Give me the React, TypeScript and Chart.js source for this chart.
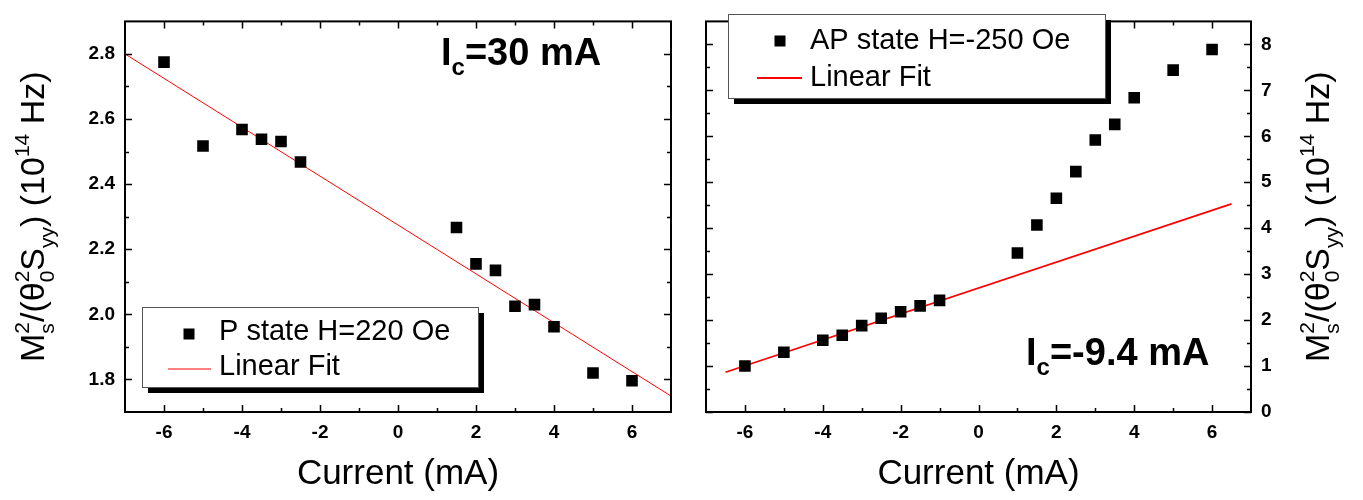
import React, { useEffect, useRef } from 'react';
import { Chart, registerables } from 'chart.js';

Chart.register(...registerables);

const FONT = "'Liberation Sans', Arial, Helvetica, sans-serif";

// ---------- Left panel: P state ----------
const pCurrent = [-6, -5, -4, -3.5, -3, -2.5, 1.5, 2, 2.5, 3, 3.5, 4, 5, 6];
const pValue = [2.775, 2.517, 2.568, 2.538, 2.531, 2.468, 2.267, 2.155, 2.135, 2.025, 2.03, 1.962, 1.82, 1.796];
const pFitCurrent = [-7, 7];
const pFitValue = [2.8, 1.749];
const pXTicks = [-6, -4, -2, 0, 2, 4, 6];
const pXMinor = [-5, -3, -1, 1, 3, 5];
const pYTicks = [1.8, 2.0, 2.2, 2.4, 2.6, 2.8];
const pYMinor = [1.9, 2.1, 2.3, 2.5, 2.7];
const pLabel = 'P state H=220 Oe';
const pNote = '=30 mA';

// ---------- Right panel: AP state ----------
const apCurrent = [-6, -5, -4, -3.5, -3, -2.5, -2, -1.5, -1, 1, 1.5, 2, 2.5, 3, 3.5, 4, 5, 6];
const apValue = [1.0, 1.3, 1.56, 1.67, 1.88, 2.04, 2.18, 2.31, 2.43, 3.46, 4.07, 4.65, 5.23, 5.92, 6.26, 6.84, 7.44, 7.89];
const apFitCurrent = [-6.5, 6.5];
const apFitValue = [0.865, 4.53];
const apXTicks = [-6, -4, -2, 0, 2, 4, 6];
const apXMinor = [-5, -3, -1, 1, 3, 5];
const apYTicks = [0, 1, 2, 3, 4, 5, 6, 7, 8];
const apYMinor = [0.5, 1.5, 2.5, 3.5, 4.5, 5.5, 6.5, 7.5];
const apLabel = 'AP state H=-250 Oe';
const apNote = '=-9.4 mA';

const fitLabel = 'Linear Fit';
const xTitle = 'Current (mA)';

type Seg = { text?: string; sub?: string; sup?: string };

const yTitleSegs: Seg[] = [
  { text: 'M' },
  { sub: 's', sup: '2' },
  { text: '/(θ' },
  { sub: '0', sup: '2' },
  { text: 'S' },
  { sub: 'yy' },
  { text: ') (10' },
  { sup: '14' },
  { text: ' Hz)' },
];

function richWidth(ctx: CanvasRenderingContext2D, segs: Seg[], mainFont: string, scriptFont: string) {
  let w = 0;
  for (const s of segs) {
    if (s.text !== undefined) {
      ctx.font = mainFont;
      w += ctx.measureText(s.text).width;
    } else {
      ctx.font = scriptFont;
      w += Math.max(s.sub ? ctx.measureText(s.sub).width : 0, s.sup ? ctx.measureText(s.sup).width : 0);
    }
  }
  return w;
}

function drawRich(
  ctx: CanvasRenderingContext2D,
  segs: Seg[],
  x0: number,
  y0: number,
  mainFont: string,
  scriptFont: string,
  subDy: number,
  supDy: number
) {
  let x = x0;
  ctx.textBaseline = 'alphabetic';
  ctx.textAlign = 'left';
  for (const s of segs) {
    if (s.text !== undefined) {
      ctx.font = mainFont;
      ctx.fillText(s.text, x, y0);
      x += ctx.measureText(s.text).width;
    } else {
      ctx.font = scriptFont;
      let w = 0;
      if (s.sub) {
        ctx.fillText(s.sub, x, y0 + subDy);
        w = Math.max(w, ctx.measureText(s.sub).width);
      }
      if (s.sup) {
        ctx.fillText(s.sup, x, y0 + supDy);
        w = Math.max(w, ctx.measureText(s.sup).width);
      }
      x += w;
    }
  }
}

type PanelOpts = {
  current: number[];
  value: number[];
  fitCurrent: number[];
  fitValue: number[];
  fitWidth: number;
  xTicks: number[];
  xMinor: number[];
  yTicks: number[];
  yMinor: number[];
  yMin: number;
  yMax: number;
  yDecimals: number;
  yPosition: 'left' | 'right';
  yWidth: number;
  padding: { left: number; right: number; top: number; bottom: number };
  label: string;
  note: string;
  noteX: number;
  noteY: number;
  titleX: number;
  legend: { x: number; y: number; w: number; h: number; mx: number; my: number; tx: number; ty1: number; lx0: number; lx1: number; ly: number; ty2: number };
};

function makeDecorPlugin(o: PanelOpts) {
  return {
    id: 'decor',
    afterDraw(chart: any) {
      const ctx: CanvasRenderingContext2D = chart.ctx;
      const a = chart.chartArea;
      const xs = chart.scales.x;
      const ys = chart.scales.y;
      ctx.save();
      // frame
      ctx.strokeStyle = '#000';
      ctx.lineWidth = 2;
      ctx.strokeRect(a.left, a.top, a.right - a.left, a.bottom - a.top);
      // inward ticks
      ctx.lineWidth = 1.5;
      const tick = (vals: number[], len: number) => {
        for (const v of vals) {
          const px = Math.round(xs.getPixelForValue(v)) + 0.5;
          ctx.beginPath();
          ctx.moveTo(px, a.bottom);
          ctx.lineTo(px, a.bottom - len);
          ctx.moveTo(px, a.top);
          ctx.lineTo(px, a.top + len);
          ctx.stroke();
        }
      };
      const tickY = (vals: number[], len: number) => {
        for (const v of vals) {
          const py = Math.round(ys.getPixelForValue(v)) + 0.5;
          ctx.beginPath();
          ctx.moveTo(a.left, py);
          ctx.lineTo(a.left + len, py);
          ctx.moveTo(a.right, py);
          ctx.lineTo(a.right - len, py);
          ctx.stroke();
        }
      };
      tick(o.xTicks, 7);
      tick(o.xMinor, 4);
      tickY(o.yTicks, 7);
      tickY(o.yMinor, 4);

      // legend box
      const L = o.legend;
      ctx.fillStyle = '#000';
      ctx.fillRect(L.x + 6, L.y + 6, L.w, L.h);
      ctx.fillStyle = '#fff';
      ctx.fillRect(L.x, L.y, L.w, L.h);
      ctx.strokeStyle = '#555';
      ctx.lineWidth = 1;
      ctx.strokeRect(L.x + 0.5, L.y + 0.5, L.w, L.h);
      ctx.fillStyle = '#000';
      ctx.fillRect(L.mx - 5.5, L.my - 5.5, 11, 11);
      ctx.font = `29px ${FONT}`;
      ctx.textBaseline = 'alphabetic';
      ctx.textAlign = 'left';
      ctx.fillText(chart.data.datasets[0].label, L.tx, L.ty1);
      ctx.strokeStyle = '#ff0000';
      ctx.lineWidth = o.fitWidth;
      ctx.beginPath();
      ctx.moveTo(L.lx0, L.ly);
      ctx.lineTo(L.lx1, L.ly);
      ctx.stroke();
      ctx.fillText(chart.data.datasets[1].label, L.tx, L.ty2);

      // annotation I_c
      ctx.fillStyle = '#000';
      drawRich(ctx, [{ text: 'I' }, { sub: 'c' }, { text: o.note }], o.noteX, o.noteY, `bold 38px ${FONT}`, `bold 24px ${FONT}`, 10, 0);

      // rotated y title
      const mainFont = `34px ${FONT}`;
      const scriptFont = `21px ${FONT}`;
      const w = richWidth(ctx, yTitleSegs, mainFont, scriptFont);
      const cy = (a.top + a.bottom) / 2;
      ctx.translate(o.titleX, cy);
      ctx.rotate(-Math.PI / 2);
      drawRich(ctx, yTitleSegs, -w / 2, 0, mainFont, scriptFont, 10, -15);
      ctx.restore();
    },
  };
}

function makeConfig(o: PanelOpts): any {
  return {
    type: 'scatter',
    data: {
      datasets: [
        {
          label: o.label,
          data: o.current.map((x, i) => ({ x, y: o.value[i] })),
          pointStyle: 'rect',
          pointRadius: 8.2,
          pointHoverRadius: 8.2,
          backgroundColor: '#000',
          borderColor: '#000',
          borderWidth: 0,
          showLine: false,
        },
        {
          label: fitLabel,
          data: o.fitCurrent.map((x, i) => ({ x, y: o.fitValue[i] })),
          showLine: true,
          borderColor: '#ff0000',
          backgroundColor: '#ff0000',
          borderWidth: o.fitWidth,
          pointRadius: 0,
          fill: false,
          tension: 0,
        },
      ],
    },
    options: {
      responsive: false,
      animation: false,
      devicePixelRatio: 1,
      layout: { padding: o.padding },
      plugins: { legend: { display: false }, tooltip: { enabled: false } },
      scales: {
        x: {
          type: 'linear',
          min: -7,
          max: 7,
          afterBuildTicks: (s: any) => {
            s.ticks = o.xTicks.map((v) => ({ value: v }));
          },
          afterFit: (s: any) => {
            s.height = 88;
          },
          grid: { display: false, drawTicks: false },
          border: { display: false },
          ticks: {
            font: { family: FONT, size: 19, weight: 'bold' },
            color: '#000',
            padding: 9,
            maxRotation: 0,
            autoSkip: false,
            callback: (v: any) => String(v),
          },
          title: {
            display: true,
            text: xTitle,
            font: { family: FONT, size: 35 },
            color: '#000',
            padding: { top: 0, bottom: 5 },
          },
        },
        y: {
          type: 'linear',
          position: o.yPosition,
          min: o.yMin,
          max: o.yMax,
          afterBuildTicks: (s: any) => {
            s.ticks = o.yTicks.map((v) => ({ value: v }));
          },
          afterFit: (s: any) => {
            s.width = o.yWidth;
          },
          grid: { display: false, drawTicks: false },
          border: { display: false },
          ticks: {
            font: { family: FONT, size: 19, weight: 'bold' },
            color: '#000',
            padding: 10,
            autoSkip: false,
            callback: (v: any) => Number(v).toFixed(o.yDecimals),
          },
        },
      },
    },
    plugins: [makeDecorPlugin(o)],
  };
}

const leftOpts: PanelOpts = {
  current: pCurrent,
  value: pValue,
  fitCurrent: pFitCurrent,
  fitValue: pFitValue,
  fitWidth: 1,
  xTicks: pXTicks,
  xMinor: pXMinor,
  yTicks: pYTicks,
  yMinor: pYMinor,
  yMin: 1.7,
  yMax: 2.9,
  yDecimals: 1,
  yPosition: 'left',
  yWidth: 125,
  padding: { left: 0, right: 19, top: 5, bottom: 0 },
  label: pLabel,
  note: pNote,
  noteX: 441,
  noteY: 65,
  titleX: 44,
  legend: { x: 142, y: 307, w: 336, h: 80, mx: 189, my: 334, tx: 219, ty1: 340, lx0: 168, lx1: 211, ly: 369, ty2: 375 },
};

const rightOpts: PanelOpts = {
  current: apCurrent,
  value: apValue,
  fitCurrent: apFitCurrent,
  fitValue: apFitValue,
  fitWidth: 1.8,
  xTicks: apXTicks,
  xMinor: apXMinor,
  yTicks: apYTicks,
  yMinor: apYMinor,
  yMin: 0,
  yMax: 8.5,
  yDecimals: 0,
  yPosition: 'right',
  yWidth: 112,
  padding: { left: 16, right: 0, top: 5, bottom: 0 },
  label: apLabel,
  note: apNote,
  noteX: 336,
  noteY: 365,
  titleX: 639,
  legend: { x: 38, y: 14, w: 377, h: 84, mx: 90, my: 41, tx: 120, ty1: 49, lx0: 67, lx1: 112, ly: 78, ty2: 86 },
};

function Panel({ opts, left, width }: { opts: PanelOpts; left: number; width: number }) {
  const ref = useRef<HTMLCanvasElement | null>(null);
  useEffect(() => {
    if (!ref.current) return;
    const chart = new Chart(ref.current, makeConfig(opts));
    return () => chart.destroy();
  }, [opts]);
  return (
    <canvas
      ref={ref}
      width={width}
      height={500}
      style={{ position: 'absolute', left, top: 0, width, height: 500, display: 'block' }}
    />
  );
}

export default function App() {
  return (
    <div style={{ position: 'absolute', left: 0, top: 0, width: 1363, height: 500, background: '#fff' }}>
      <Panel opts={leftOpts} left={0} width={690} />
      <Panel opts={rightOpts} left={690} width={673} />
    </div>
  );
}
